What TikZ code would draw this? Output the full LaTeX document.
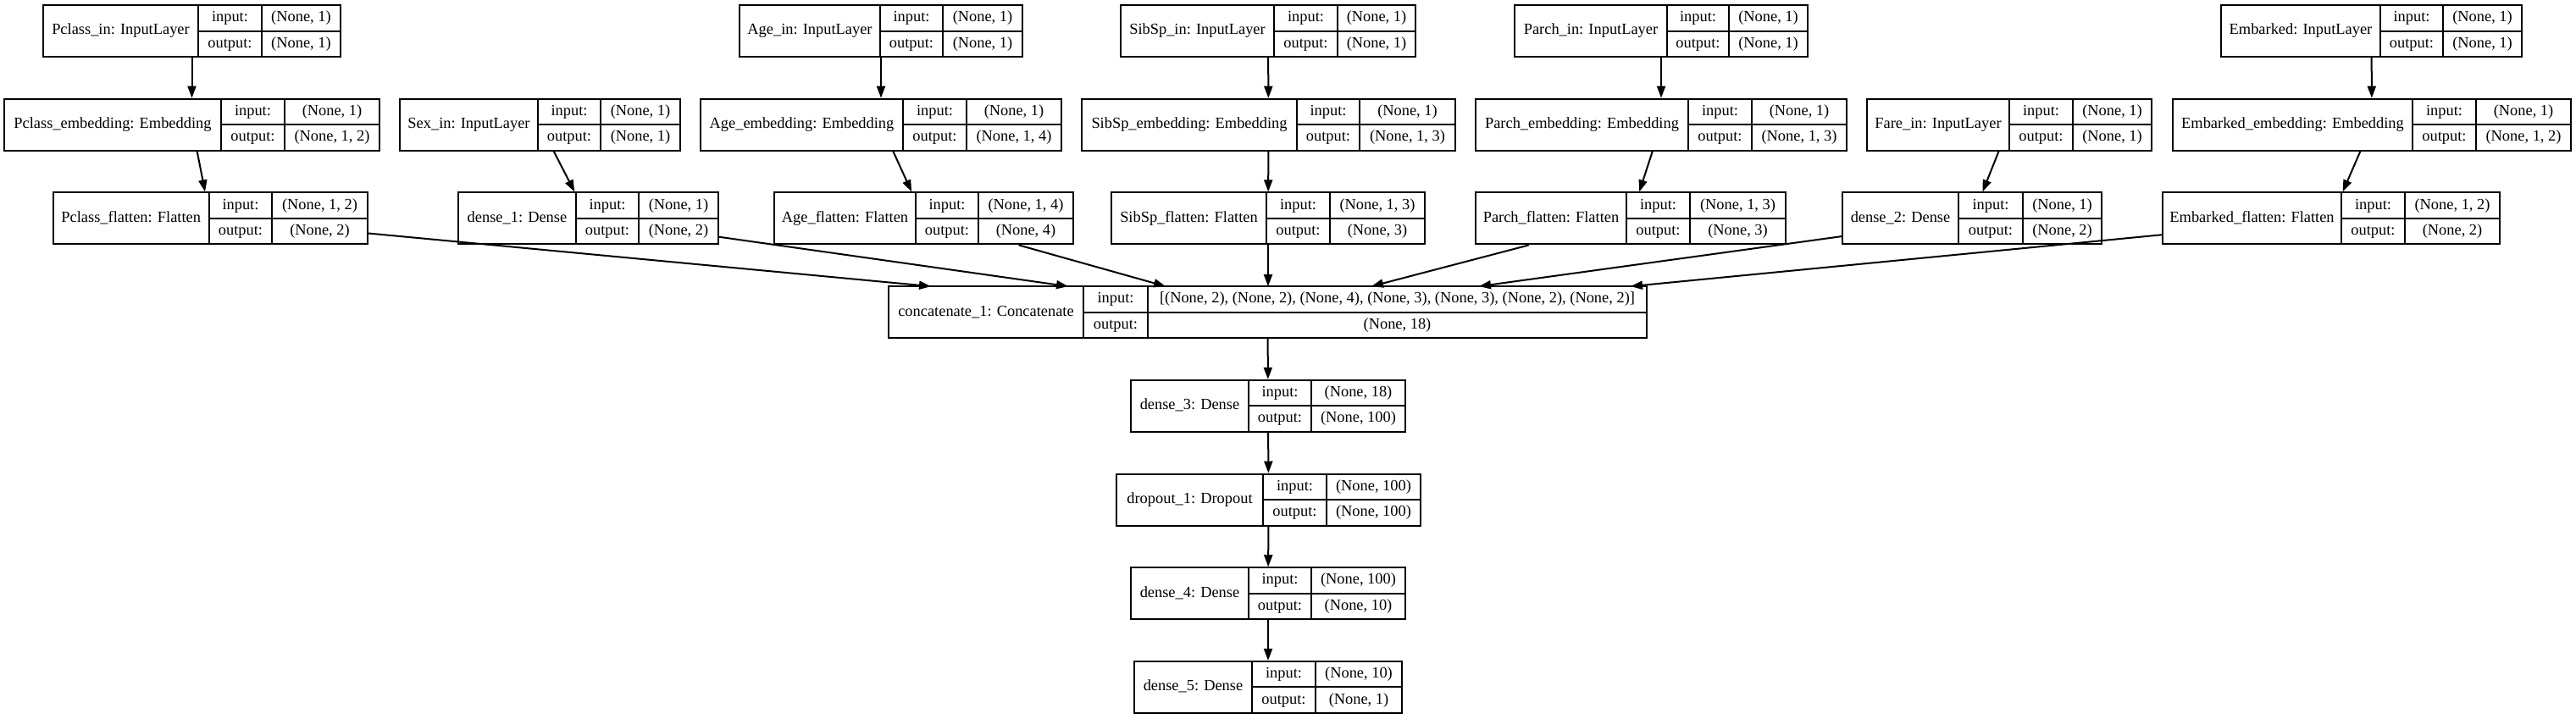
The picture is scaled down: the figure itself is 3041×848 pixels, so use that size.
\documentclass[tikz,border=0pt]{standalone}
\usepackage{fontspec}
\setmainfont{Liberation Serif}
\usetikzlibrary{arrows.meta}
\tikzset{
  x=0.5pt, y=-0.5pt,
  recbox/.style={draw, line width=1pt, inner sep=0pt, minimum height=30.5pt},
  divl/.style={line width=1pt},
  lbl/.style={inner sep=0pt, font=\fontsize{9.2}{10}\selectfont, text height=6.4pt, text depth=2pt},
  arr/.style={line width=1pt, -{Triangle[length=7pt,width=5pt]}},
}
% #1 name, #2 x1, #3 d1, #4 d2, #5 x2, #6 ytop, #7 title, #8 in, #9 out
\newcommand{\rec}[9]{%
  \pgfmathsetmacro\rw{(#5-(#2))*0.5}%
  \node[recbox, minimum width=\rw pt] (#1) at ({(#2+#5)/2},{#6+30.5}) {};
  \draw[divl] (#3,#6) -- (#3,#6+61) (#4,#6) -- (#4,#6+61) (#3,#6+30.5) -- (#5,#6+30.5);
  \node[lbl] (#1-t) at ({(#2+#3)/2},{#6+30.5}) {#7};
  \node[lbl] (#1-il) at ({(#3+#4)/2},{#6+15.25}) {input:};
  \node[lbl] (#1-ol) at ({(#3+#4)/2},{#6+45.75}) {output:};
  \node[lbl] (#1-iv) at ({(#4+#5)/2},{#6+15.25}) {#8};
  \node[lbl] (#1-ov) at ({(#4+#5)/2},{#6+45.75}) {#9};
}
\begin{document}
\begin{tikzpicture}
\fill[white] (0,0) rectangle (3041,848);
\useasboundingbox (0,0) rectangle (3041,848);
% row 1
\rec{pin}{51}{234}{309}{402}{6}{Pclass\_in: InputLayer}{(None, 1)}{(None, 1)}
\rec{ain}{873}{1039}{1113}{1207}{6}{Age\_in: InputLayer}{(None, 1)}{(None, 1)}
\rec{sin}{1323}{1504}{1579}{1671}{6}{SibSp\_in: InputLayer}{(None, 1)}{(None, 1)}
\rec{parin}{1788}{1968}{2041}{2134}{6}{Parch\_in: InputLayer}{(None, 1)}{(None, 1)}
\rec{ein}{2622}{2810}{2884}{2977}{6}{Embarked: InputLayer}{(None, 1)}{(None, 1)}
% row 2
\rec{pemb}{5}{261}{336}{448}{116.7}{Pclass\_embedding: Embedding}{(None, 1)}{(None, 1, 2)}
\rec{sexin}{472}{635}{709}{803}{116.7}{Sex\_in: InputLayer}{(None, 1)}{(None, 1)}
\rec{aemb}{827}{1066}{1141}{1253}{116.7}{Age\_embedding: Embedding}{(None, 1)}{(None, 1, 4)}
\rec{semb}{1277}{1531}{1605}{1718}{116.7}{SibSp\_embedding: Embedding}{(None, 1)}{(None, 1, 3)}
\rec{paremb}{1742}{1993}{2068}{2180}{116.7}{Parch\_embedding: Embedding}{(None, 1)}{(None, 1, 3)}
\rec{farein}{2204}{2372}{2447}{2540}{116.7}{Fare\_in: InputLayer}{(None, 1)}{(None, 1)}
\rec{eemb}{2565}{2848}{2923}{3035}{116.7}{Embarked\_embedding: Embedding}{(None, 1)}{(None, 1, 2)}
% row 3
\rec{pflat}{62.5}{247}{321}{434}{227.4}{Pclass\_flatten: Flatten}{(None, 1, 2)}{(None, 2)}
\rec{dA}{541}{680}{754}{848}{227.4}{dense\_1: Dense}{(None, 1)}{(None, 2)}
\rec{aflat}{914}{1081}{1155}{1267}{227.4}{Age\_flatten: Flatten}{(None, 1, 4)}{(None, 4)}
\rec{sflat}{1312}{1495}{1570}{1682}{227.4}{SibSp\_flatten: Flatten}{(None, 1, 3)}{(None, 3)}
\rec{parflat}{1742}{1920}{1995}{2108}{227.4}{Parch\_flatten: Flatten}{(None, 1, 3)}{(None, 3)}
\rec{dB}{2175}{2312}{2388}{2481}{227.4}{dense\_2: Dense}{(None, 1)}{(None, 2)}
\rec{eflat}{2553}{2764}{2839}{2951}{227.4}{Embarked\_flatten: Flatten}{(None, 1, 2)}{(None, 2)}
% concatenate
\rec{cat}{1049}{1279}{1355}{1944}{338.1}{concatenate\_1: Concatenate}{[(None, 2), (None, 2), (None, 4), (None, 3), (None, 3), (None, 2), (None, 2)]}{(None, 18)}
% tail
\rec{dC}{1335}{1474}{1548}{1659}{448.8}{dense\_3: Dense}{(None, 18)}{(None, 100)}
\rec{drop}{1318}{1491}{1566}{1677}{559.5}{dropout\_1: Dropout}{(None, 100)}{(None, 100)}
\rec{dD}{1335}{1474}{1548}{1659}{670.2}{dense\_4: Dense}{(None, 100)}{(None, 10)}
\rec{dE}{1339}{1478}{1553}{1655}{780.9}{dense\_5: Dense}{(None, 10)}{(None, 1)}
% concat ports
\coordinate (c1) at (1099,338.1);
\coordinate (c2) at (1261,338.1);
\coordinate (c3) at (1376,338.1);
\coordinate (c4) at (1497,338.1);
\coordinate (c5) at (1619,338.1);
\coordinate (c6) at (1746,338.1);
\coordinate (c7) at (1925,338.1);
% edges
\draw[arr] (pin) -- (pemb);
\draw[arr] (pemb) -- (pflat);
\draw[arr] (ain) -- (aemb);
\draw[arr] (aemb) -- (aflat);
\draw[arr] (sin) -- (semb);
\draw[arr] (semb) -- (sflat);
\draw[arr] (parin) -- (paremb);
\draw[arr] (paremb) -- (parflat);
\draw[arr] (ein) -- (eemb);
\draw[arr] (eemb) -- (eflat);
\draw[arr] (sexin) -- (dA);
\draw[arr] (farein) -- (dB);
\draw[arr] (pflat) -- (c1);
\draw[arr] (dA) -- (c2);
\draw[arr] (aflat) -- (c3);
\draw[arr] (sflat) -- (c4);
\draw[arr] (parflat) -- (c5);
\draw[arr] (dB) -- (c6);
\draw[arr] (eflat) -- (c7);
\draw[arr] (cat) -- (dC);
\draw[arr] (dC) -- (drop);
\draw[arr] (drop) -- (dD);
\draw[arr] (dD) -- (dE);
\end{tikzpicture}
\end{document}
